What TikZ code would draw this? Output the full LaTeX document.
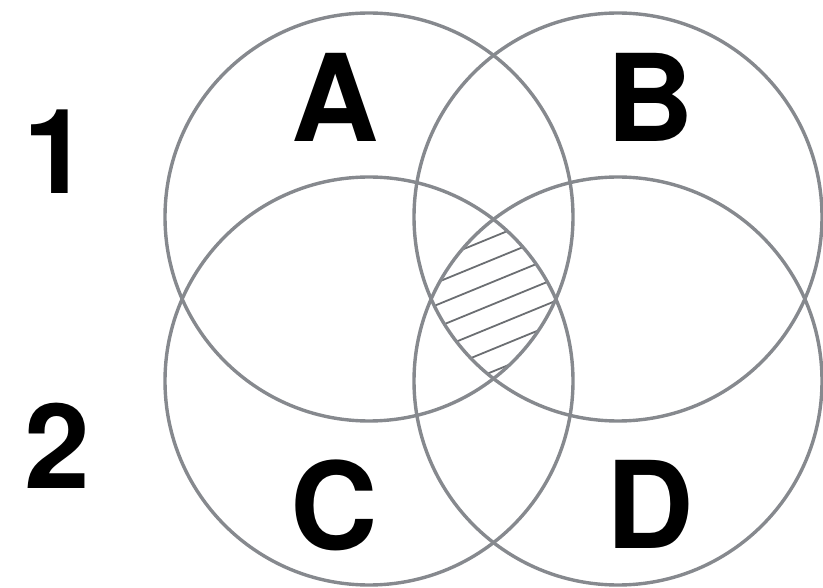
\documentclass[tikz,border=0pt]{standalone}
\usepackage{fontspec}
\setmainfont{TeX Gyre Heros}
\definecolor{ringgray}{RGB}{134,137,142}
\begin{document}
\begin{tikzpicture}[x=1pt,y=-1pt,
  ring/.style={draw=ringgray,line width=3.4pt},
  hatchline/.style={draw=ringgray!80!black,line width=1.8pt},
  biglabel/.style={inner sep=0pt,font=\fontsize{121}{121}\selectfont\bfseries},
  rowlabel/.style={inner sep=0pt,font=\fontsize{118}{118}\selectfont\bfseries}]
\useasboundingbox (0,0) rectangle (823,588);
\coordinate (cA) at (369,217);
\coordinate (cB) at (618,217);
\coordinate (cC) at (369,381);
\coordinate (cD) at (618,381);
\begin{scope}
  \clip (cA) circle[radius=204pt];
  \clip (cB) circle[radius=204pt];
  \clip (cC) circle[radius=204pt];
  \clip (cD) circle[radius=204pt];
  \foreach \k in {0,...,6}{
    \draw[hatchline] (380,{237+22.4*\k+0.41*113}) -- (610,{237+22.4*\k-0.41*117});
  }
\end{scope}
\draw[ring] (cA) circle[radius=204pt];
\draw[ring] (cB) circle[radius=204pt];
\draw[ring] (cC) circle[radius=204pt];
\draw[ring] (cD) circle[radius=204pt];
\node[biglabel] (lA) at (335,97) {A};
\node[biglabel] (lB) at (650,97) {B};
\node[biglabel] (lC) at (334,505) {C};
\node[biglabel] (lD) at (650,504) {D};
\node[rowlabel] (r1) at (56,152) {1};
\node[rowlabel] (r2) at (57,446) {2};
\end{tikzpicture}
\end{document}
